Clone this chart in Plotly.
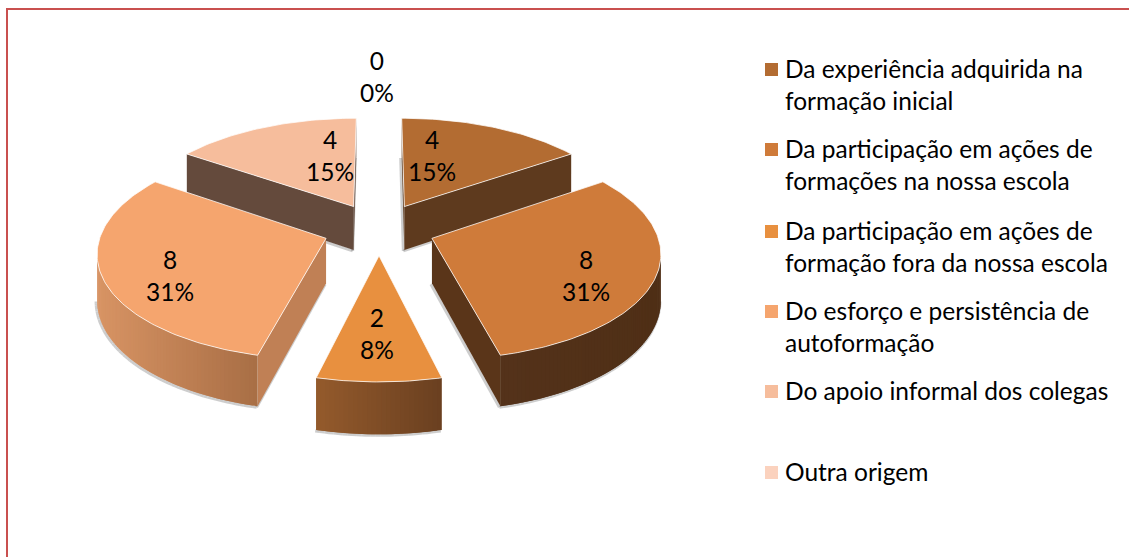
import math
import plotly.graph_objects as go

categories = ["Da experiência adquirida na<br>formação inicial",
              "Da participação em ações de<br>formações na nossa escola",
              "Da participação em ações de<br>formação fora da nossa escola",
              "Do esforço e persistência de<br>autoformação",
              "Do apoio informal dos colegas",
              "Outra origem"]
values = [4, 8, 2, 8, 4, 0]
percent_labels = ["15%", "31%", "8%", "31%", "15%", "0%"]
top_colors = ["#B36C32", "#CF7B3A", "#E8903F", "#F5A56E", "#F6BD9C", "#FBD2BE"]
side_start = ["#5E3A1E", "#4F2F16", "#6A4020", "#A86E45", "#644A3C", "#644A3C"]
side_end = ["#5E3A1E", "#54321A", "#945A2C", "#D89464", "#644A3C", "#644A3C"]
cut_colors = ["#5E3A1E", "#5A3519", "#6A4020", "#C08055", "#644A3C", "#644A3C"]
label_xy = [(432, 155), (586, 275), (377, 333), (170, 275), (330, 155), (377, 76)]
legend_y = [69, 149, 231, 311, 391, 472]

CX, CY, R, RY, K, EXPL, DEPTH = 379, 229, 224, 104, 0.12, 0.25, 44.5
FONT = "Lato"
FONT_SIZE = 24.5


def project(u, v):
    s = 1 / (1 - K * v)
    return CX + R * u * s, CY + RY * v * s, s


def mix(a, b, t):
    ca = [int(a[i:i + 2], 16) for i in (1, 3, 5)]
    cb = [int(b[i:i + 2], 16) for i in (1, 3, 5)]
    return "rgb(%d,%d,%d)" % tuple(round(x + (y - x) * t) for x, y in zip(ca, cb))


def poly(fig, xs, ys, fill, line=None, width=0):
    fig.add_trace(go.Scatter(x=xs, y=ys, mode="lines", fill="toself", fillcolor=fill,
                             line=dict(color=line or fill, width=width),
                             hoverinfo="skip", showlegend=False))


def slice_outline(start, end, n):
    mid = math.radians((start + end) / 2)
    ou, ov = EXPL * math.sin(mid), -EXPL * math.cos(mid)
    pts = [project(ou, ov)]
    for i in range(n + 1):
        a = math.radians(start + (end - start) * i / n)
        pts.append(project(ou + math.sin(a), ov - math.cos(a)))
    return pts


def draw_slice(fig, idx, start, end):
    n = max(8, int(end - start))
    pts = slice_outline(start, end, n)
    low = [(x, y + DEPTH * s) for x, y, s in pts]
    rim = [i for i in range(1, n + 1) if pts[i + 1][0] < pts[i][0]]
    # soft shadow below the visible lower edge
    for a, b in [(0, 1), (n + 1, 0)] + [(i, i + 1) for i in rim]:
        if pts[b][0] < pts[a][0]:
            fig.add_trace(go.Scatter(x=[low[a][0] - 1, low[b][0] - 1], y=[low[a][1] + 1, low[b][1] + 1],
                                     mode="lines", line=dict(color="rgba(130,130,130,0.4)", width=3),
                                     hoverinfo="skip", showlegend=False))
    # straight cut faces
    for a, b in [(0, 1), (n + 1, 0)]:
        if pts[b][0] < pts[a][0]:
            poly(fig, [pts[a][0], pts[b][0], low[b][0], low[a][0]],
                 [pts[a][1], pts[b][1], low[b][1], low[a][1]], cut_colors[idx])
    # outer rim in thin overlapping strips, shaded from right to left
    if rim:
        xs = [pts[i][0] for i in rim] + [pts[rim[-1] + 1][0]]
        x0, x1 = min(xs), max(xs)
        for i in rim:
            j = min(i + 2, rim[-1] + 1)
            t = (x1 - (pts[i][0] + pts[i + 1][0]) / 2) / max(x1 - x0, 1)
            col = mix(side_start[idx], side_end[idx], t)
            poly(fig, [pts[i][0], pts[i + 1][0], pts[j][0], low[j][0], low[i + 1][0], low[i][0]],
                 [pts[i][1], pts[i + 1][1], pts[j][1], low[j][1], low[i + 1][1], low[i][1]], col)
    # top
    poly(fig, [p[0] for p in pts] + [pts[0][0]], [p[1] for p in pts] + [pts[0][1]],
         top_colors[idx], "rgba(255,255,255,0.75)", 1)


total = sum(values)
spans = []
acc = 0
for v in values:
    spans.append((acc / total * 360, (acc + v) / total * 360))
    acc += v

fig = go.Figure()
# painter's order: back slices first, front slice last
for i in [0, 4, 1, 3, 2]:
    draw_slice(fig, i, *spans[i])

annotations = []
for v, p, (x, y) in zip(values, percent_labels, label_xy):
    annotations.append(dict(x=x, y=y, text=f"{v}<br>{p}", showarrow=False, xref="x", yref="y",
                            font=dict(family=FONT, size=FONT_SIZE, color="#000000"), align="center"))
shapes = [dict(type="rect", x0=7, y0=9, x1=1135, y1=565, xref="x", yref="y",
               line=dict(color="#C9504F", width=2), layer="below")]
for c, col, y in zip(categories, top_colors, legend_y):
    shapes.append(dict(type="rect", x0=765, x1=778, y0=y - 6, y1=y + 7, xref="x", yref="y",
                       fillcolor=col, line=dict(width=0)))
    annotations.append(dict(x=783, y=y - 17, text=c, showarrow=False, xref="x", yref="y",
                            xanchor="left", yanchor="top", align="left",
                            font=dict(family=FONT, size=FONT_SIZE, color="#000000")))

fig.update_layout(width=1129, height=557, margin=dict(l=0, r=0, t=0, b=0),
                  paper_bgcolor="white", plot_bgcolor="white", showlegend=False,
                  xaxis=dict(range=[0, 1129], visible=False, fixedrange=True),
                  yaxis=dict(range=[557, 0], visible=False, fixedrange=True),
                  shapes=shapes, annotations=annotations)
fig.write_html("out.html", config=dict(displayModeBar=False),
               post_script="document.body.style.margin='0';document.body.style.overflow='hidden';")
